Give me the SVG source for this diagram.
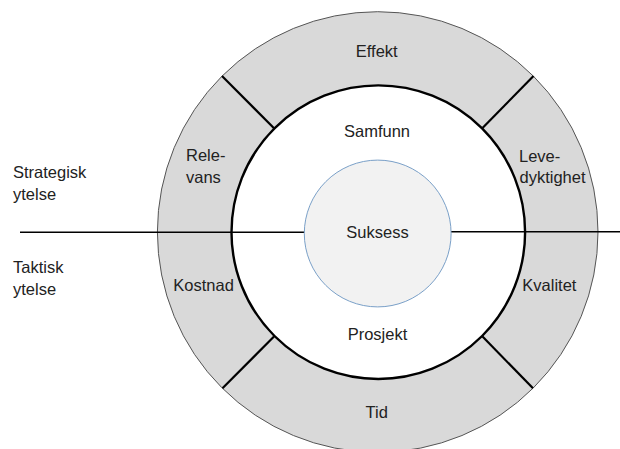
<svg xmlns="http://www.w3.org/2000/svg" width="620" height="449" viewBox="0 0 620 449">
<style>
text{font-family:"Liberation Sans",Arial,sans-serif;font-size:16.5px;fill:#222}
.c{text-anchor:middle}
.div{stroke:#000;stroke-width:2.2}
</style>
<rect width="620" height="449" fill="#fff"/>
<g id="outer-ring">
<circle cx="377.7" cy="232" r="220.3" fill="#d9d9d9" stroke="#555" stroke-width="1"/>
</g>
<g id="inner-circle">
<circle cx="378.3" cy="232.2" r="146.8" fill="#fff" stroke="#000" stroke-width="2.4"/>
</g>
<g id="connectors">
<line x1="20" y1="232.3" x2="304.3" y2="232.3" stroke="#000" stroke-width="1.5"/>
<line x1="451" y1="231.8" x2="620" y2="231.8" stroke="#000" stroke-width="1.5"/>
<line class="div" x1="222" y1="76" x2="273.8" y2="128"/>
<line class="div" x1="533.5" y1="76" x2="482.5" y2="128"/>
<line class="div" x1="222.5" y1="388.3" x2="274" y2="336.5"/>
<line class="div" x1="533" y1="388.3" x2="482.5" y2="336.5"/>
</g>
<g id="suksess">
<circle cx="377.7" cy="233.5" r="73.4" fill="#f2f2f2" stroke="#7aa0c8" stroke-width="1"/>
<text class="c" x="377.5" y="238.3">Suksess</text>
</g>
<g id="samfunn"><text class="c" x="377" y="136.7">Samfunn</text></g>
<g id="prosjekt"><text class="c" x="377.5" y="340">Prosjekt</text></g>
<g id="effekt"><text class="c" x="376.7" y="57.3">Effekt</text></g>
<g id="tid"><text class="c" x="376.7" y="418.3">Tid</text></g>
<g id="relevans"><text x="186" y="161.3">Rele-</text><text x="186" y="183.3">vans</text></g>
<g id="levedyktighet"><text x="519" y="161.7">Leve-</text><text x="519.5" y="183.3">dyktighet</text></g>
<g id="kostnad"><text x="173.3" y="291">Kostnad</text></g>
<g id="kvalitet"><text x="522.3" y="291">Kvalitet</text></g>
<g id="strategisk"><text x="13" y="178.3">Strategisk</text><text x="13" y="200">ytelse</text></g>
<g id="taktisk"><text x="13" y="272.7">Taktisk</text><text x="13" y="295">ytelse</text></g>
</svg>
